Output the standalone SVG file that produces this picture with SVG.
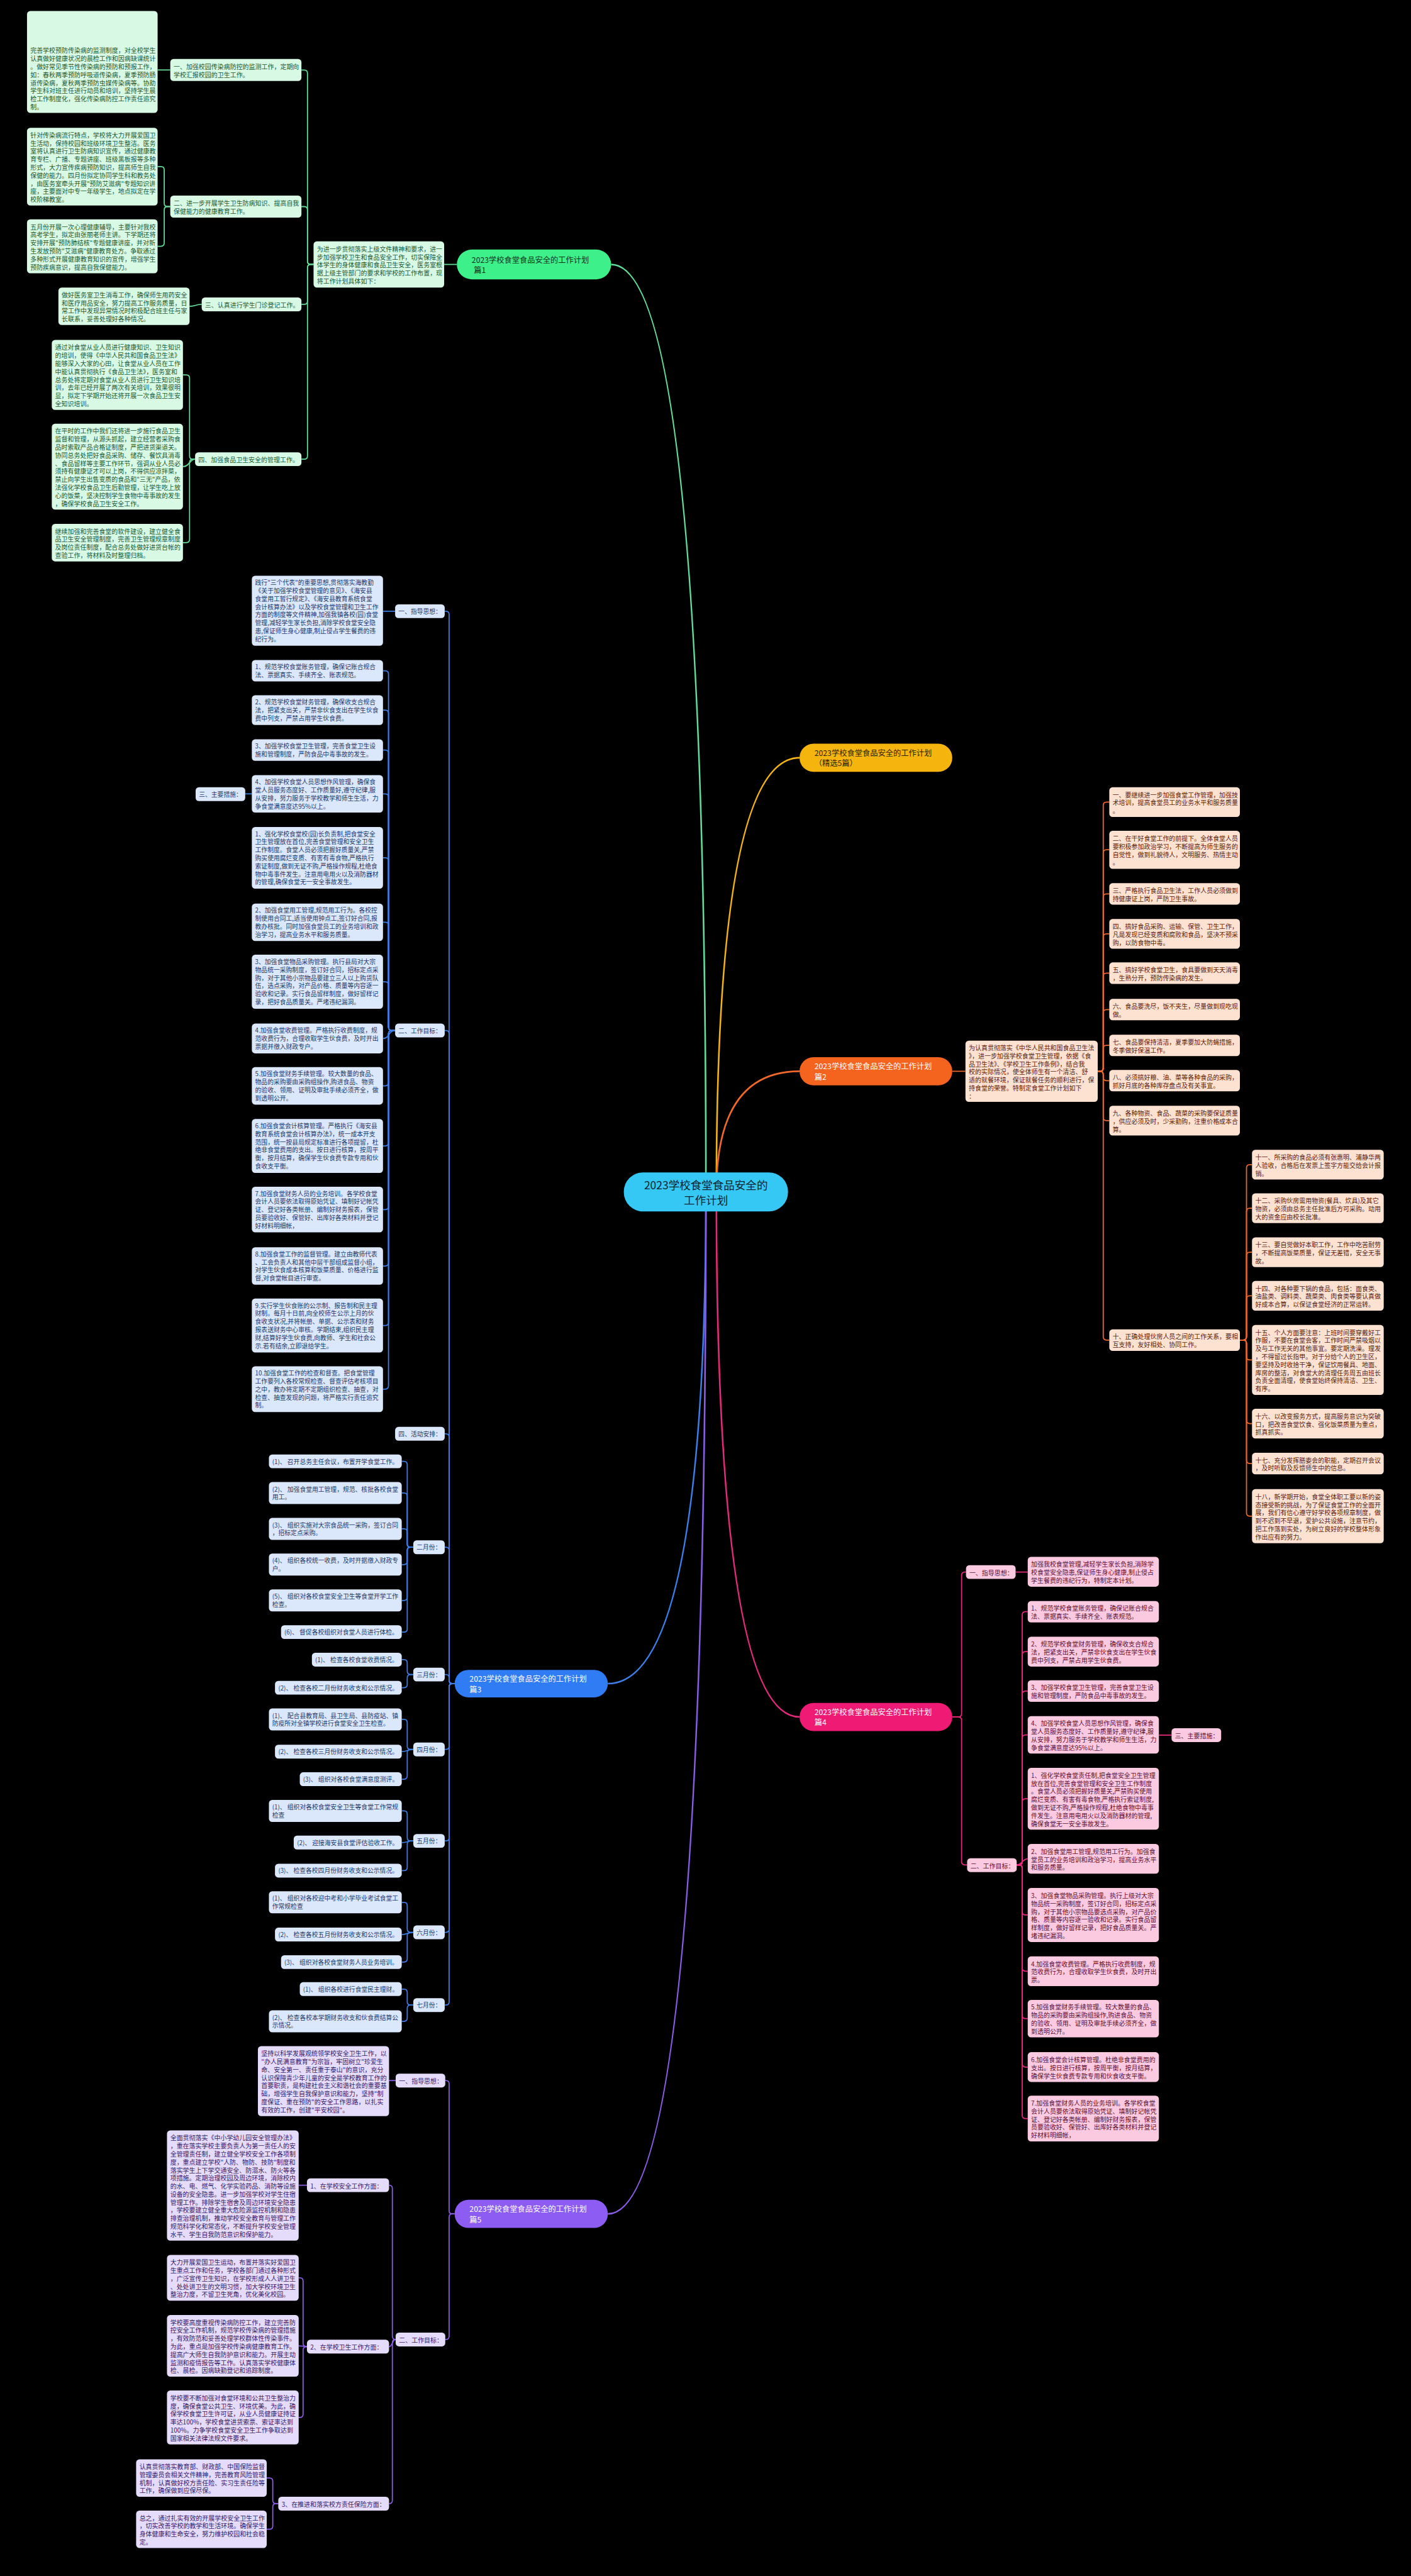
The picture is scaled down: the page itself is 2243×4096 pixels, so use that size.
<svg xmlns="http://www.w3.org/2000/svg" width="2243" height="4096" viewBox="0 0 2243 4096">
<style>
.t{font-family:"Noto Sans CJK SC","Noto Sans",sans-serif;font-size:11.4px;dominant-baseline:central}
.n{font-family:"Noto Sans CJK SC","Noto Sans",sans-serif;font-size:14px;dominant-baseline:central}
.c{font-family:"Noto Sans CJK SC","Noto Sans",sans-serif;font-size:20px;dominant-baseline:central;text-anchor:middle}
.g rect{fill:#d8f9e3}.g text{fill:#1c5a35}
.o rect{fill:#fde1d1}.o text{fill:#5a2410}
.u rect{fill:#dbe7fb}.u text{fill:#1d3a6a}
.p rect{fill:#fbc9e0}.p text{fill:#5e1035}
.v rect{fill:#e5dbfa}.v text{fill:#35206a}
.u .t{font-size:11.2px}
#conn path{fill:none;stroke-width:2}
.cg{stroke:#62de9a}.co{stroke:#f0692a}.cu{stroke:#3d7fe6}.cp{stroke:#e62a7c}.cv{stroke:#8a5ee6}.cy{stroke:#f2b315}
#conn .m{stroke-width:3}
</style>
<rect width="2243" height="4096" fill="#000"/>
<g transform="scale(0.876)">
<g id="conn">
<path class="cg m" d="M 1281 2163 Q 1281 480 1109 480"/>
<path class="cy m" d="M 1300 2163 Q 1300 1375.5 1451 1375.5"/>
<path class="co m" d="M 1300 2163 Q 1300 1944.5 1451 1944.5"/>
<path class="cu m" d="M 1281 2163 Q 1281 3056 1103 3056"/>
<path class="cp m" d="M 1300 2163 Q 1300 3116.5 1451 3116.5"/>
<path class="cv m" d="M 1281 2163 Q 1281 4018.5 1103 4018.5"/>
<path class="cg" d="M 829 480 H 806"/>
<path class="cg" d="M 569 480 H 564 Q 558 480 558 474 V 133 Q 558 127 552 127 H 547"/>
<path class="cg" d="M 569 480 H 564 Q 558 480 558 474 V 381 Q 558 375 552 375 H 547"/>
<path class="cg" d="M 569 480 H 564 Q 558 480 558 486 V 546.5 Q 558 552.5 552 552.5 H 547"/>
<path class="cg" d="M 569 480 H 564 Q 558 480 558 486 V 827.5 Q 558 833.5 552 833.5 H 547"/>
<path class="cg" d="M 309 127 H 286"/>
<path class="cg" d="M 309 375 H 304 Q 298 375 298 369 V 308.5 Q 298 302.5 292 302.5 H 286"/>
<path class="cg" d="M 309 375 H 304 Q 298 375 298 381 V 441 Q 298 447 292 447 H 286"/>
<path class="cg" d="M 366 552.5 C 355 552.5 355 556 344 556"/>
<path class="cg" d="M 354 833.5 H 350 Q 344 833.5 344 827.5 V 686.5 Q 344 680.5 338 680.5 H 332"/>
<path class="cg" d="M 354 833.5 C 344 833.5 344 847 332 847"/>
<path class="cg" d="M 354 833.5 H 350 Q 344 833.5 344 839.5 V 979 Q 344 985 338 985 H 332"/>
<path class="co" d="M 1728 1944.5 H 1752"/>
<path class="co" d="M 1992 1944.5 H 1996 Q 2002 1944.5 2002 1938.5 V 1462 Q 2002 1456 2008 1456 H 2013"/>
<path class="co" d="M 1992 1944.5 H 1996 Q 2002 1944.5 2002 1938.5 V 1548.5 Q 2002 1542.5 2008 1542.5 H 2013"/>
<path class="co" d="M 1992 1944.5 H 1996 Q 2002 1944.5 2002 1938.5 V 1628.5 Q 2002 1622.5 2008 1622.5 H 2013"/>
<path class="co" d="M 1992 1944.5 H 1996 Q 2002 1944.5 2002 1938.5 V 1701 Q 2002 1695 2008 1695 H 2013"/>
<path class="co" d="M 1992 1944.5 H 1996 Q 2002 1944.5 2002 1938.5 V 1772.5 Q 2002 1766.5 2008 1766.5 H 2013"/>
<path class="co" d="M 1992 1944.5 H 1996 Q 2002 1944.5 2002 1938.5 V 1838.5 Q 2002 1832.5 2008 1832.5 H 2013"/>
<path class="co" d="M 1992 1944.5 H 1996 Q 2002 1944.5 2002 1938.5 V 1903.5 Q 2002 1897.5 2008 1897.5 H 2013"/>
<path class="co" d="M 1992 1944.5 H 1996 Q 2002 1944.5 2002 1950.5 V 1955.5 Q 2002 1961.5 2008 1961.5 H 2013"/>
<path class="co" d="M 1992 1944.5 H 1996 Q 2002 1944.5 2002 1950.5 V 2028 Q 2002 2034 2008 2034 H 2013"/>
<path class="co" d="M 1992 1944.5 H 1996 Q 2002 1944.5 2002 1950.5 V 2426.5 Q 2002 2432.5 2008 2432.5 H 2013"/>
<path class="co" d="M 2250 2432.5 H 2256 Q 2262 2432.5 2262 2426.5 V 2120 Q 2262 2114 2268 2114 H 2272"/>
<path class="co" d="M 2250 2432.5 H 2256 Q 2262 2432.5 2262 2426.5 V 2199 Q 2262 2193 2268 2193 H 2272"/>
<path class="co" d="M 2250 2432.5 H 2256 Q 2262 2432.5 2262 2426.5 V 2279 Q 2262 2273 2268 2273 H 2272"/>
<path class="co" d="M 2250 2432.5 H 2256 Q 2262 2432.5 2262 2426.5 V 2358 Q 2262 2352 2268 2352 H 2272"/>
<path class="co" d="M 2250 2432.5 H 2256 Q 2262 2432.5 2262 2438.5 V 2462.5 Q 2262 2468.5 2268 2468.5 H 2272"/>
<path class="co" d="M 2250 2432.5 H 2256 Q 2262 2432.5 2262 2438.5 V 2578 Q 2262 2584 2268 2584 H 2272"/>
<path class="co" d="M 2250 2432.5 H 2256 Q 2262 2432.5 2262 2438.5 V 2650.5 Q 2262 2656.5 2268 2656.5 H 2272"/>
<path class="co" d="M 2250 2432.5 H 2256 Q 2262 2432.5 2262 2438.5 V 2746 Q 2262 2752 2268 2752 H 2272"/>
<path class="cu" d="M 825 3056 H 821 Q 815 3056 815 3050 V 1115.5 Q 815 1109.5 809 1109.5 H 807"/>
<path class="cu" d="M 825 3056 H 821 Q 815 3056 815 3050 V 1876.5 Q 815 1870.5 809 1870.5 H 807"/>
<path class="cu" d="M 825 3056 H 821 Q 815 3056 815 3050 V 2608.5 Q 815 2602.5 809 2602.5 H 807"/>
<path class="cu" d="M 825 3056 H 821 Q 815 3056 815 3050 V 2814.5 Q 815 2808.5 809 2808.5 H 807"/>
<path class="cu" d="M 825 3056 H 821 Q 815 3056 815 3050 V 3045.5 Q 815 3039.5 809 3039.5 H 807"/>
<path class="cu" d="M 825 3056 H 821 Q 815 3056 815 3062 V 3169.5 Q 815 3175.5 809 3175.5 H 807"/>
<path class="cu" d="M 825 3056 H 821 Q 815 3056 815 3062 V 3335.5 Q 815 3341.5 809 3341.5 H 807"/>
<path class="cu" d="M 825 3056 H 821 Q 815 3056 815 3062 V 3501.5 Q 815 3507.5 809 3507.5 H 807"/>
<path class="cu" d="M 825 3056 H 821 Q 815 3056 815 3062 V 3633.5 Q 815 3639.5 809 3639.5 H 807"/>
<path class="cu" d="M 717 1109.5 H 695"/>
<path class="cu" d="M 717 1870.5 H 711 Q 705 1870.5 705 1864.5 V 1223.5 Q 705 1217.5 699 1217.5 H 695"/>
<path class="cu" d="M 717 1870.5 H 711 Q 705 1870.5 705 1864.5 V 1295 Q 705 1289 699 1289 H 695"/>
<path class="cu" d="M 717 1870.5 H 711 Q 705 1870.5 705 1864.5 V 1367.5 Q 705 1361.5 699 1361.5 H 695"/>
<path class="cu" d="M 717 1870.5 H 711 Q 705 1870.5 705 1864.5 V 1447 Q 705 1441 699 1441 H 695"/>
<path class="cu" d="M 717 1870.5 H 711 Q 705 1870.5 705 1864.5 V 1563 Q 705 1557 699 1557 H 695"/>
<path class="cu" d="M 717 1870.5 H 711 Q 705 1870.5 705 1864.5 V 1680 Q 705 1674 699 1674 H 695"/>
<path class="cu" d="M 717 1870.5 H 711 Q 705 1870.5 705 1864.5 V 1788 Q 705 1782 699 1782 H 695"/>
<path class="cu" d="M 717 1870.5 C 705 1870.5 707 1885 695 1885"/>
<path class="cu" d="M 717 1870.5 H 711 Q 705 1870.5 705 1876.5 V 1965 Q 705 1971 699 1971 H 695"/>
<path class="cu" d="M 717 1870.5 H 711 Q 705 1870.5 705 1876.5 V 2074 Q 705 2080 699 2080 H 695"/>
<path class="cu" d="M 717 1870.5 H 711 Q 705 1870.5 705 1876.5 V 2189.5 Q 705 2195.5 699 2195.5 H 695"/>
<path class="cu" d="M 717 1870.5 H 711 Q 705 1870.5 705 1876.5 V 2292 Q 705 2298 699 2298 H 695"/>
<path class="cu" d="M 717 1870.5 H 711 Q 705 1870.5 705 1876.5 V 2400 Q 705 2406 699 2406 H 695"/>
<path class="cu" d="M 717 1870.5 H 711 Q 705 1870.5 705 1876.5 V 2515.5 Q 705 2521.5 699 2521.5 H 695"/>
<path class="cu" d="M 457 1441 H 445"/>
<path class="cu" d="M 750 2808.5 H 745 Q 739 2808.5 739 2802.5 V 2658.5 Q 739 2652.5 733 2652.5 H 729"/>
<path class="cu" d="M 750 2808.5 H 745 Q 739 2808.5 739 2802.5 V 2716 Q 739 2710 733 2710 H 729"/>
<path class="cu" d="M 750 2808.5 H 745 Q 739 2808.5 739 2802.5 V 2781 Q 739 2775 733 2775 H 729"/>
<path class="cu" d="M 750 2808.5 H 745 Q 739 2808.5 739 2814.5 V 2834 Q 739 2840 733 2840 H 729"/>
<path class="cu" d="M 750 2808.5 H 745 Q 739 2808.5 739 2814.5 V 2899 Q 739 2905 733 2905 H 729"/>
<path class="cu" d="M 750 2808.5 H 745 Q 739 2808.5 739 2814.5 V 2956.5 Q 739 2962.5 733 2962.5 H 729"/>
<path class="cu" d="M 750 3039.5 H 745 Q 739 3039.5 739 3033.5 V 3018.5 Q 739 3012.5 733 3012.5 H 729"/>
<path class="cu" d="M 750 3039.5 H 745 Q 739 3039.5 739 3045.5 V 3057.5 Q 739 3063.5 733 3063.5 H 729"/>
<path class="cu" d="M 750 3175.5 H 745 Q 739 3175.5 739 3169.5 V 3127 Q 739 3121 733 3121 H 729"/>
<path class="cu" d="M 750 3175.5 C 739 3175.5 739 3179.5 729 3179.5"/>
<path class="cu" d="M 750 3175.5 H 745 Q 739 3175.5 739 3181.5 V 3223.5 Q 739 3229.5 733 3229.5 H 729"/>
<path class="cu" d="M 750 3341.5 H 745 Q 739 3341.5 739 3335.5 V 3293 Q 739 3287 733 3287 H 729"/>
<path class="cu" d="M 750 3341.5 C 739 3341.5 739 3344.5 729 3344.5"/>
<path class="cu" d="M 750 3341.5 H 745 Q 739 3341.5 739 3347.5 V 3389.5 Q 739 3395.5 733 3395.5 H 729"/>
<path class="cu" d="M 750 3507.5 H 745 Q 739 3507.5 739 3501.5 V 3459 Q 739 3453 733 3453 H 729"/>
<path class="cu" d="M 750 3507.5 C 739 3507.5 739 3511.5 729 3511.5"/>
<path class="cu" d="M 750 3507.5 H 745 Q 739 3507.5 739 3513.5 V 3555.5 Q 739 3561.5 733 3561.5 H 729"/>
<path class="cu" d="M 750 3639.5 H 745 Q 739 3639.5 739 3633.5 V 3616.5 Q 739 3610.5 733 3610.5 H 729"/>
<path class="cu" d="M 750 3639.5 H 745 Q 739 3639.5 739 3645.5 V 3663 Q 739 3669 733 3669 H 729"/>
<path class="cp" d="M 1728 3116.5 H 1739 Q 1745 3116.5 1745 3110.5 V 2859.5 Q 1745 2853.5 1751 2853.5 H 1753"/>
<path class="cp" d="M 1728 3116.5 H 1739 Q 1745 3116.5 1745 3122.5 V 3379 Q 1745 3385 1751 3385 H 1755"/>
<path class="cp" d="M 1843 2853.5 H 1865"/>
<path class="cp" d="M 1845 3385 H 1849 Q 1855 3385 1855 3379 V 2931.5 Q 1855 2925.5 1861 2925.5 H 1865"/>
<path class="cp" d="M 1845 3385 H 1849 Q 1855 3385 1855 3379 V 3004 Q 1855 2998 1861 2998 H 1865"/>
<path class="cp" d="M 1845 3385 H 1849 Q 1855 3385 1855 3379 V 3075.5 Q 1855 3069.5 1861 3069.5 H 1865"/>
<path class="cp" d="M 1845 3385 H 1849 Q 1855 3385 1855 3379 V 3155 Q 1855 3149 1861 3149 H 1865"/>
<path class="cp" d="M 1845 3385 H 1849 Q 1855 3385 1855 3379 V 3271 Q 1855 3265 1861 3265 H 1865"/>
<path class="cp" d="M 1845 3385 C 1855 3385 1855 3374 1865 3374"/>
<path class="cp" d="M 1845 3385 H 1849 Q 1855 3385 1855 3391 V 3470 Q 1855 3476 1861 3476 H 1865"/>
<path class="cp" d="M 1845 3385 H 1849 Q 1855 3385 1855 3391 V 3572 Q 1855 3578 1861 3578 H 1865"/>
<path class="cp" d="M 1845 3385 H 1849 Q 1855 3385 1855 3391 V 3658 Q 1855 3664 1861 3664 H 1865"/>
<path class="cp" d="M 1845 3385 H 1849 Q 1855 3385 1855 3391 V 3746 Q 1855 3752 1861 3752 H 1865"/>
<path class="cp" d="M 1845 3385 H 1849 Q 1855 3385 1855 3391 V 3839.5 Q 1855 3845.5 1861 3845.5 H 1865"/>
<path class="cp" d="M 2103 3149.5 H 2126"/>
<path class="cv" d="M 825 4018.5 H 821 Q 815 4018.5 815 4012.5 V 3782.5 Q 815 3776.5 809 3776.5 H 808"/>
<path class="cv" d="M 825 4018.5 H 821 Q 815 4018.5 815 4024.5 V 4240.5 Q 815 4246.5 809 4246.5 H 808"/>
<path class="cv" d="M 718 3776.5 H 706"/>
<path class="cv" d="M 718 4246.5 Q 712 4246.5 712 4240.5 V 3972.5 Q 712 3966.5 706 3966.5"/>
<path class="cv" d="M 718 4246.5 C 712 4246.5 712 4259.5 706 4259.5"/>
<path class="cv" d="M 718 4246.5 Q 712 4246.5 712 4252.5 V 4538.5 Q 712 4544.5 706 4544.5"/>
<path class="cv" d="M 557 3966.5 H 542"/>
<path class="cv" d="M 557 4259.5 Q 550 4259.5 550 4253.5 V 4140.5 Q 550 4134.5 544 4134.5 H 542"/>
<path class="cv" d="M 557 4259.5 C 550 4259.5 550 4258 542 4258"/>
<path class="cv" d="M 557 4259.5 Q 550 4259.5 550 4265.5 V 4382 Q 550 4388 544 4388 H 542"/>
<path class="cv" d="M 505 4544.5 H 501 Q 495 4544.5 495 4538.5 V 4504 Q 495 4498 489 4498 H 484"/>
<path class="cv" d="M 505 4544.5 H 501 Q 495 4544.5 495 4550.5 V 4585 Q 495 4591 489 4591 H 484"/>
</g>

<g id="center"><rect x="1132" y="2128" width="298" height="71" rx="35" fill="#36c8f4"/><text class="c" fill="#10222e"><tspan x="1281" y="2150">2023学校食堂食品安全的</tspan><tspan x="1281" y="2177">工作计划</tspan></text></g>

<g id="b1"><rect x="829" y="453" width="280" height="54" rx="27" fill="#3ef089"/><text class="n" fill="#15301f"><tspan x="856" y="471">2023学校食堂食品安全的工作计划</tspan><tspan x="860" y="490">篇1</tspan></text></g>
<g id="b2"><rect x="1451" y="1350" width="277" height="51" rx="25" fill="#f6b40f"/><text class="n" fill="#2a1e00"><tspan x="1478" y="1366">2023学校食堂食品安全的工作计划</tspan><tspan x="1478" y="1385">（精选5篇）</tspan></text></g>
<g id="b3"><rect x="1451" y="1919" width="277" height="51" rx="25" fill="#f4641f"/><text class="n" fill="#fff"><tspan x="1478" y="1935">2023学校食堂食品安全的工作计划</tspan><tspan x="1478" y="1954">篇2</tspan></text></g>
<g id="b4"><rect x="825" y="3031" width="278" height="50" rx="25" fill="#2f7cf5"/><text class="n" fill="#fff"><tspan x="852" y="3047">2023学校食堂食品安全的工作计划</tspan><tspan x="852" y="3066">篇3</tspan></text></g>
<g id="b5"><rect x="1451" y="3091" width="277" height="51" rx="25" fill="#ee1a73"/><text class="n" fill="#fff"><tspan x="1478" y="3107">2023学校食堂食品安全的工作计划</tspan><tspan x="1478" y="3126">篇4</tspan></text></g>
<g id="b6"><rect x="825" y="3993" width="278" height="51" rx="25" fill="#8d5cf2"/><text class="n" fill="#fff"><tspan x="852" y="4009">2023学校食堂食品安全的工作计划</tspan><tspan x="852" y="4028">篇5</tspan></text></g>

<g class="g">
<g id="b1-intro"><rect x="569" y="438" width="237" height="84" rx="6"/><text class="t"><tspan x="575" y="450.8">为进一步贯彻落实上级文件精神和要求，进一</tspan><tspan x="575" y="465.4">步加强学校卫生和食品安全工作，切实保障全</tspan><tspan x="575" y="480">体学生的身体健康和食品卫生安全，医务室根</tspan><tspan x="575" y="494.6">据上级主管部门的要求和学校的工作布置，现</tspan><tspan x="575" y="509.2">将工作计划具体如下：</tspan></text></g>
<g id="b1-l1"><rect x="309" y="107" width="238" height="40" rx="6"/><text class="t"><tspan x="315" y="119.7">一、加强校园传染病防控的监测工作，定期向</tspan><tspan x="315" y="134.3">学校汇报校园的卫生工作。</tspan></text></g>
<g id="b1-l2"><rect x="309" y="355" width="238" height="40" rx="6"/><text class="t"><tspan x="315" y="367.7">二、进一步开展学生卫生防病知识、提高自我</tspan><tspan x="315" y="382.3">保健能力的健康教育工作。</tspan></text></g>
<g id="b1-l3"><rect x="366" y="540" width="181" height="25" rx="6"/><text class="t"><tspan x="372" y="552.5">三、认真进行学生门诊登记工作。</tspan></text></g>
<g id="b1-l4"><rect x="354" y="821" width="193" height="25" rx="6"/><text class="t"><tspan x="360" y="833.5">四、加强食品卫生安全的管理工作。</tspan></text></g>
<g id="b1-1a"><rect x="49" y="20" width="237" height="185" rx="6"/><text class="t"><tspan x="55" y="90.6">完善学校预防传染病的监测制度，对全校学生</tspan><tspan x="55" y="105.2">认真做好健康状况的晨检工作和因病缺课统计</tspan><tspan x="55" y="119.8">。做好常见季节性传染病的预防和预报工作，</tspan><tspan x="55" y="134.4">如：春秋两季预防呼吸道传染病，夏季预防肠</tspan><tspan x="55" y="149">道传染病，夏秋两季预防虫媒传染病等。协助</tspan><tspan x="55" y="163.6">学生科对班主任进行动员和培训，坚持学生晨</tspan><tspan x="55" y="178.2">检工作制度化，强化传染病防控工作责任追究</tspan><tspan x="55" y="192.8">制。</tspan></text></g>
<g id="b1-2a"><rect x="49" y="232" width="237" height="141" rx="6"/><text class="t"><tspan x="55" y="244.1">针对传染病流行特点，学校将大力开展爱国卫</tspan><tspan x="55" y="258.7">生活动，保持校园和班级环境卫生整洁。医务</tspan><tspan x="55" y="273.3">室将认真进行卫生防病知识宣传，通过健康教</tspan><tspan x="55" y="287.9">育专栏、广播、专题讲座、班级黑板报等多种</tspan><tspan x="55" y="302.5">形式，大力宣传疾病预防知识，提高师生自我</tspan><tspan x="55" y="317.1">保健的能力。四月份拟定协同学生科和教务处</tspan><tspan x="55" y="331.7">，由医务室牵头开展"预防艾滋病"专题知识讲</tspan><tspan x="55" y="346.3">座，主要面对中专一年级学生，地点拟定在学</tspan><tspan x="55" y="360.9">校阶梯教室。</tspan></text></g>
<g id="b1-2b"><rect x="49" y="398" width="237" height="98" rx="6"/><text class="t"><tspan x="55" y="410.5">五月份开展一次心理健康辅导，主要针对我校</tspan><tspan x="55" y="425.1">高考学生，拟定由张丽老师主讲。下学期还将</tspan><tspan x="55" y="439.7">安排开展"预防肺结核"专题健康讲座，并对新</tspan><tspan x="55" y="454.3">生发放预防"艾滋病"健康教育处方。争取通过</tspan><tspan x="55" y="468.9">多种形式开展健康教育知识的宣传，增强学生</tspan><tspan x="55" y="483.5">预防疾病意识，提高自我保健能力。</tspan></text></g>
<g id="b1-3a"><rect x="106" y="522" width="238" height="68" rx="6"/><text class="t"><tspan x="112" y="534.1">做好医务室卫生消毒工作，确保师生用药安全</tspan><tspan x="112" y="548.7">和医疗用品安全，努力提高工作服务质量，日</tspan><tspan x="112" y="563.3">常工作中发现异常情况时积极配合班主任与家</tspan><tspan x="112" y="577.9">长联系，妥善处理好各种情况。</tspan></text></g>
<g id="b1-4a"><rect x="94" y="617" width="238" height="127" rx="6"/><text class="t"><tspan x="100" y="629.4">通过对食堂从业人员进行健康知识、卫生知识</tspan><tspan x="100" y="644">的培训，使得《中华人民共和国食品卫生法》</tspan><tspan x="100" y="658.6">能够深入大家的心田，让食堂从业人员在工作</tspan><tspan x="100" y="673.2">中能认真贯彻执行《食品卫生法》，医务室和</tspan><tspan x="100" y="687.8">总务处将定期对食堂从业人员进行卫生知识培</tspan><tspan x="100" y="702.4">训，去年已经开展了两次有关培训，效果很明</tspan><tspan x="100" y="717">显，拟定下学期开始还将开展一次食品卫生安</tspan><tspan x="100" y="731.6">全知识培训。</tspan></text></g>
<g id="b1-4b"><rect x="94" y="769" width="238" height="156" rx="6"/><text class="t"><tspan x="100" y="781.3">在平时的工作中我们还将进一步施行食品卫生</tspan><tspan x="100" y="795.9">监督和管理，从源头抓起，建立经营者采购食</tspan><tspan x="100" y="810.5">品时索取产品合格证制度，严把进货渠道关。</tspan><tspan x="100" y="825.1">协同总务处把好食品采购、储存、餐饮具消毒</tspan><tspan x="100" y="839.7">、食品留样等主要工作环节，强调从业人员必</tspan><tspan x="100" y="854.3">须持有健康证才可以上岗，不得供应凉拌菜，</tspan><tspan x="100" y="868.9">禁止向学生出售变质的食品和"三无"产品，依</tspan><tspan x="100" y="883.5">法强化学校食品卫生后勤管理，让学生吃上放</tspan><tspan x="100" y="898.1">心的饭菜，坚决控制学生食物中毒事故的发生</tspan><tspan x="100" y="912.7">，确保学校食品卫生安全工作。</tspan></text></g>
<g id="b1-4c"><rect x="94" y="951" width="238" height="68" rx="6"/><text class="t"><tspan x="100" y="963.1">继续加强和完善食堂的软件建设，建立健全食</tspan><tspan x="100" y="977.7">品卫生安全管理制度，完善卫生管理规章制度</tspan><tspan x="100" y="992.3">及岗位责任制度，配合总务处做好进货台帐的</tspan><tspan x="100" y="1006.9">查验工作，将材料及时整理归档。</tspan></text></g>
</g>

<g class="o">
<g id="b3-intro"><rect x="1752" y="1889" width="240" height="111" rx="6"/><text class="t"><tspan x="1758" y="1900.7">为认真贯彻落实《中华人民共和国食品卫生法</tspan><tspan x="1758" y="1915.3">》，进一步加强学校食堂卫生管理，依据《食</tspan><tspan x="1758" y="1929.9">品卫生法》、《学校卫生工作条例》，结合我</tspan><tspan x="1758" y="1944.5">校的实际情况，使全体师生有一个清洁、舒</tspan><tspan x="1758" y="1959.1">适的就餐环境，保证就餐任务的顺利进行，保</tspan><tspan x="1758" y="1973.7">持食堂的荣誉。特制定食堂工作计划如下</tspan><tspan x="1758" y="1988.3">：</tspan></text></g>
<g id="b3-1"><rect x="2013" y="1429" width="237" height="54" rx="6"/><text class="t"><tspan x="2019" y="1441.4">一、要继续进一步加强食堂工作管理，加强技</tspan><tspan x="2019" y="1456">术培训，提高食堂员工的业务水平和服务质量</tspan><tspan x="2019" y="1470.6">。</tspan></text></g>
<g id="b3-2"><rect x="2013" y="1508" width="237" height="69" rx="6"/><text class="t"><tspan x="2019" y="1520.6">二、在干好食堂工作的前提下。全体食堂人员</tspan><tspan x="2019" y="1535.2">要积极参加政治学习，不断提高为师生服务的</tspan><tspan x="2019" y="1549.8">自觉性，做到礼貌待人，文明服务、热情主动</tspan><tspan x="2019" y="1564.4">。</tspan></text></g>
<g id="b3-3"><rect x="2013" y="1603" width="237" height="39" rx="6"/><text class="t"><tspan x="2019" y="1615.2">三、严格执行食品卫生法，工作人员必须做到</tspan><tspan x="2019" y="1629.8">持健康证上岗，严防卫生事故。</tspan></text></g>
<g id="b3-4"><rect x="2013" y="1668" width="237" height="54" rx="6"/><text class="t"><tspan x="2019" y="1680.4">四、搞好食品采购、运输、保管、卫生工作，</tspan><tspan x="2019" y="1695">凡是发现已经变质和腐败和食品，坚决不预采</tspan><tspan x="2019" y="1709.6">购，以防食物中毒。</tspan></text></g>
<g id="b3-5"><rect x="2013" y="1747" width="237" height="39" rx="6"/><text class="t"><tspan x="2019" y="1759.2">五、搞好学校食堂卫生，食具要做到天天消毒</tspan><tspan x="2019" y="1773.8">，生熟分开，预防传染病的发生。</tspan></text></g>
<g id="b3-6"><rect x="2013" y="1813" width="237" height="39" rx="6"/><text class="t"><tspan x="2019" y="1825.2">六、食品要洗尽，饭不夹生，尽量做到现吃现</tspan><tspan x="2019" y="1839.8">做。</tspan></text></g>
<g id="b3-7"><rect x="2013" y="1878" width="237" height="39" rx="6"/><text class="t"><tspan x="2019" y="1890.2">七、食品要保持清洁，夏季要加大防蝇措施，</tspan><tspan x="2019" y="1904.8">冬季做好保温工作。</tspan></text></g>
<g id="b3-8"><rect x="2013" y="1942" width="237" height="39" rx="6"/><text class="t"><tspan x="2019" y="1954.2">八、必须搞好粮、油、菜等各种食品的采购，</tspan><tspan x="2019" y="1968.8">抓好月底的各种库存盘点及有关事宜。</tspan></text></g>
<g id="b3-9"><rect x="2013" y="2007" width="237" height="54" rx="6"/><text class="t"><tspan x="2019" y="2019.4">九、各种物资、食品、蔬菜的采购要保证质量</tspan><tspan x="2019" y="2034">，供应必须及时，少采勤购，注重价格成本合</tspan><tspan x="2019" y="2048.6">算。</tspan></text></g>
<g id="b3-10"><rect x="2013" y="2413" width="237" height="39" rx="6"/><text class="t"><tspan x="2019" y="2425.2">十、正确处理伙房人员之间的工作关系，要相</tspan><tspan x="2019" y="2439.8">互支持，友好相处、协同工作。</tspan></text></g>
<g id="b3-11"><rect x="2272" y="2087" width="239" height="54" rx="6"/><text class="t"><tspan x="2278" y="2099.4">十一、所采购的食品必须有张惠明、浦静华两</tspan><tspan x="2278" y="2114">人验收，合格后在发票上签字方能交给会计报</tspan><tspan x="2278" y="2128.6">销。</tspan></text></g>
<g id="b3-12"><rect x="2272" y="2166" width="239" height="54" rx="6"/><text class="t"><tspan x="2278" y="2178.4">十二、采购伙房需用物资(餐具、炊具)及其它</tspan><tspan x="2278" y="2193">物资，必须由总务主任批准后方可采购。动用</tspan><tspan x="2278" y="2207.6">大的资金应由校长批准。</tspan></text></g>
<g id="b3-13"><rect x="2272" y="2246" width="239" height="54" rx="6"/><text class="t"><tspan x="2278" y="2258.4">十三、要自觉做好本职工作，工作中吃苦耐劳</tspan><tspan x="2278" y="2273">，不断提高饭菜质量，保证无差错，安全无事</tspan><tspan x="2278" y="2287.6">故。</tspan></text></g>
<g id="b3-14"><rect x="2272" y="2325" width="239" height="54" rx="6"/><text class="t"><tspan x="2278" y="2337.4">十四、对各种要下锅的食品，包括：面食类、</tspan><tspan x="2278" y="2352">油盐类、调料类、蔬菜类、肉食类等要认真做</tspan><tspan x="2278" y="2366.6">好成本合算，以保证食堂经济的正常运转。</tspan></text></g>
<g id="b3-15"><rect x="2272" y="2405" width="239" height="127" rx="6"/><text class="t"><tspan x="2278" y="2417.4">十五、个人方面要注意：上班时间要穿戴好工</tspan><tspan x="2278" y="2432">作服，不要在食堂会客，工作时间严禁吸烟以</tspan><tspan x="2278" y="2446.6">及与工作无关的其他事宜。要定期洗澡。理发</tspan><tspan x="2278" y="2461.2">，不得留过长指甲。对于分给个人的卫生区，</tspan><tspan x="2278" y="2475.8">要坚持及时收拾干净，保证饮用餐具、地面、</tspan><tspan x="2278" y="2490.4">库房的整洁，对食堂大的清理任务周五由班长</tspan><tspan x="2278" y="2505">负责全面清理，使食堂始终保持清洁、卫生、</tspan><tspan x="2278" y="2519.6">有序。</tspan></text></g>
<g id="b3-16"><rect x="2272" y="2557" width="239" height="54" rx="6"/><text class="t"><tspan x="2278" y="2569.4">十六、以改变报务方式，提高服务意识为突破</tspan><tspan x="2278" y="2584">口，把改善食堂饮食、强化饭菜质量为重点，</tspan><tspan x="2278" y="2598.6">抓真抓实。</tspan></text></g>
<g id="b3-17"><rect x="2272" y="2637" width="239" height="39" rx="6"/><text class="t"><tspan x="2278" y="2649.2">十七、充分发挥膳委会的职能，定期召开会议</tspan><tspan x="2278" y="2663.8">，及时听取及反馈师生中的信息。</tspan></text></g>
<g id="b3-18"><rect x="2272" y="2703" width="239" height="98" rx="6"/><text class="t"><tspan x="2278" y="2715.5">十八，新学期开始，食堂全体职工要以新的姿</tspan><tspan x="2278" y="2730.1">态接受新的挑战，为了保证食堂工作的全面开</tspan><tspan x="2278" y="2744.7">展，我们有信心遵守好学校各项规章制度，做</tspan><tspan x="2278" y="2759.3">到不迟到不早退，爱护公共设施，注意节约，</tspan><tspan x="2278" y="2773.9">把工作落到实处，为树立良好的学校整体形象</tspan><tspan x="2278" y="2788.5">作出应有的努力。</tspan></text></g>
</g>

<g class="u">
<g id="b4-l1"><rect x="717" y="1097" width="90" height="25" rx="6"/><text class="t"><tspan x="723" y="1109.5">一、指导思想：</tspan></text></g>
<g id="b4-l2"><rect x="717" y="1858" width="90" height="25" rx="6"/><text class="t"><tspan x="723" y="1870.5">二、工作目标：</tspan></text></g>
<g id="b4-l4"><rect x="717" y="2590" width="90" height="25" rx="6"/><text class="t"><tspan x="723" y="2602.5">四、活动安排：</tspan></text></g>
<g id="b4-m2"><rect x="750" y="2796" width="57" height="25" rx="6"/><text class="t"><tspan x="756" y="2808.5">二月份：</tspan></text></g>
<g id="b4-m3"><rect x="750" y="3027" width="57" height="25" rx="6"/><text class="t"><tspan x="756" y="3039.5">三月份：</tspan></text></g>
<g id="b4-m4"><rect x="750" y="3163" width="57" height="25" rx="6"/><text class="t"><tspan x="756" y="3175.5">四月份：</tspan></text></g>
<g id="b4-m5"><rect x="750" y="3329" width="57" height="25" rx="6"/><text class="t"><tspan x="756" y="3341.5">五月份：</tspan></text></g>
<g id="b4-m6"><rect x="750" y="3495" width="57" height="25" rx="6"/><text class="t"><tspan x="756" y="3507.5">六月份：</tspan></text></g>
<g id="b4-m7"><rect x="750" y="3627" width="57" height="25" rx="6"/><text class="t"><tspan x="756" y="3639.5">七月份：</tspan></text></g>
<g id="b4-l3"><rect x="355" y="1429" width="90" height="25" rx="6"/><text class="t"><tspan x="361" y="1441.5">三、主要措施：</tspan></text></g>
<g id="b4-guide"><rect x="457" y="1045" width="238" height="127" rx="6"/><text class="t"><tspan x="463" y="1057.4">践行"三个代表"的重要思想,贯彻落实海教勤</tspan><tspan x="463" y="1072">《关于加强学校食堂管理的意见》、《海安县</tspan><tspan x="463" y="1086.6">食堂用工暂行规定》、《海安县教育系统食堂</tspan><tspan x="463" y="1101.2">会计核算办法》以及学校食堂管理和卫生工作</tspan><tspan x="463" y="1115.8">方面的制度等文件精神,加强我镇各校(园)食堂</tspan><tspan x="463" y="1130.4">管理,减轻学生家长负担,消除学校食堂安全隐</tspan><tspan x="463" y="1145">患,保证师生身心健康,制止侵占学生餐费的违</tspan><tspan x="463" y="1159.6">纪行为。</tspan></text></g>
<g id="b4-a1"><rect x="457" y="1198" width="238" height="39" rx="6"/><text class="t"><tspan x="463" y="1210.2">1、规范学校食堂账务管理，确保记账合规合</tspan><tspan x="463" y="1224.8">法、票据真实、手续齐全、账表规范。</tspan></text></g>
<g id="b4-a2"><rect x="457" y="1262" width="238" height="54" rx="6"/><text class="t"><tspan x="463" y="1274.4">2、规范学校食堂财务管理，确保收支合规合</tspan><tspan x="463" y="1289">法，把紧支出关，严禁非伙食支出在学生伙食</tspan><tspan x="463" y="1303.6">费中列支，严禁占用学生伙食费。</tspan></text></g>
<g id="b4-a3"><rect x="457" y="1342" width="238" height="39" rx="6"/><text class="t"><tspan x="463" y="1354.2">3、加强学校食堂卫生管理，完善食堂卫生设</tspan><tspan x="463" y="1368.8">施和管理制度，严防食品中毒事故的发生。</tspan></text></g>
<g id="b4-a4"><rect x="457" y="1407" width="238" height="68" rx="6"/><text class="t"><tspan x="463" y="1419.1">4、加强学校食堂人员思想作风管理，确保食</tspan><tspan x="463" y="1433.7">堂人员服务态度好、工作质量好,遵守纪律,服</tspan><tspan x="463" y="1448.3">从安排，努力服务于学校教学和师生生活，力</tspan><tspan x="463" y="1462.9">争食堂满意度达95%以上。</tspan></text></g>
<g id="b4-b1"><rect x="457" y="1501" width="238" height="112" rx="6"/><text class="t"><tspan x="463" y="1513.2">1、强化学校食堂校(园)长负责制,把食堂安全</tspan><tspan x="463" y="1527.8">卫生管理放在首位,完善食堂管理和安全卫生</tspan><tspan x="463" y="1542.4">工作制度。食堂人员必须把握好质量关,严禁</tspan><tspan x="463" y="1557">购买使用腐烂变质、有害有毒食物,严格执行</tspan><tspan x="463" y="1571.6">索证制度,做到无证不购,严格操作规程,杜绝食</tspan><tspan x="463" y="1586.2">物中毒事件发生。注意用电用火以及消防器材</tspan><tspan x="463" y="1600.8">的管理,确保食堂无一安全事故发生。</tspan></text></g>
<g id="b4-b2"><rect x="457" y="1640" width="238" height="68" rx="6"/><text class="t"><tspan x="463" y="1652.1">2、加强食堂用工管理,规范用工行为。各校控</tspan><tspan x="463" y="1666.7">制使用合同工,适当使用钟点工,签订好合同,报</tspan><tspan x="463" y="1681.3">教办核批。同时加强食堂员工的业务培训和政</tspan><tspan x="463" y="1695.9">治学习，提高业务水平和服务质量。</tspan></text></g>
<g id="b4-b3"><rect x="457" y="1733" width="238" height="98" rx="6"/><text class="t"><tspan x="463" y="1745.5">3、加强食堂物品采购管理。执行县局对大宗</tspan><tspan x="463" y="1760.1">物品统一采购制度，签订好合同，招标定点采</tspan><tspan x="463" y="1774.7">购，对于其他小宗物品要建立三人以上购货队</tspan><tspan x="463" y="1789.3">伍，选点采购，对产品价格、质量等内容逐一</tspan><tspan x="463" y="1803.9">验收和记录。实行食品留样制度，做好留样记</tspan><tspan x="463" y="1818.5">录，把好食品质量关。严堵违纪漏洞。</tspan></text></g>
<g id="b4-b4"><rect x="457" y="1858" width="238" height="54" rx="6"/><text class="t"><tspan x="463" y="1870.4">4.加强食堂收费管理。严格执行收费制度，规</tspan><tspan x="463" y="1885">范收费行为，合理收取学生伙食费，及时开出</tspan><tspan x="463" y="1899.6">票据并缴入财政专户。</tspan></text></g>
<g id="b4-b5"><rect x="457" y="1937" width="238" height="68" rx="6"/><text class="t"><tspan x="463" y="1949.1">5.加强食堂财务手续管理。较大数量的食品、</tspan><tspan x="463" y="1963.7">物品的采购要由采购组操作,购进食品、物资</tspan><tspan x="463" y="1978.3">的验收、领用、证明及审批手续必须齐全，做</tspan><tspan x="463" y="1992.9">到透明公开。</tspan></text></g>
<g id="b4-b6"><rect x="457" y="2031" width="238" height="98" rx="6"/><text class="t"><tspan x="463" y="2043.5">6.加强食堂会计核算管理。严格执行《海安县</tspan><tspan x="463" y="2058.1">教育系统食堂会计核算办法》，统一成本开支</tspan><tspan x="463" y="2072.7">范围，统一按县局规定标准进行各项提留，杜</tspan><tspan x="463" y="2087.3">绝非食堂费用的支出。按日进行核算，按周平</tspan><tspan x="463" y="2101.9">衡，按月结算，确保学生伙食费专款专用和伙</tspan><tspan x="463" y="2116.5">食收支平衡。</tspan></text></g>
<g id="b4-b7"><rect x="457" y="2154" width="238" height="83" rx="6"/><text class="t"><tspan x="463" y="2166.3">7.加强食堂财务人员的业务培训。各学校食堂</tspan><tspan x="463" y="2180.9">会计人员要依法取得原始凭证、填制好记帐凭</tspan><tspan x="463" y="2195.5">证、登记好各类帐册、编制好财务报表，保管</tspan><tspan x="463" y="2210.1">员要验收好、保管好、出库好各类材料并登记</tspan><tspan x="463" y="2224.7">好材料明细帐，</tspan></text></g>
<g id="b4-b8"><rect x="457" y="2264" width="238" height="68" rx="6"/><text class="t"><tspan x="463" y="2276.1">8.加强食堂工作的监督管理。建立由教师代表</tspan><tspan x="463" y="2290.7">、工会负责人和其他中层干部组成监督小组，</tspan><tspan x="463" y="2305.3">对学生伙食成本核算和饭菜质量、价格进行监</tspan><tspan x="463" y="2319.9">督,对食堂帐目进行审查。</tspan></text></g>
<g id="b4-b9"><rect x="457" y="2357" width="238" height="98" rx="6"/><text class="t"><tspan x="463" y="2369.5">9.实行学生伙食账的公示制、报告制和民主理</tspan><tspan x="463" y="2384.1">财制。每月十日前,向全校师生公示上月的伙</tspan><tspan x="463" y="2398.7">食收支状况,并将帐册、单据、公示表和财务</tspan><tspan x="463" y="2413.3">报表送财务中心审核。学期结束,组织民主理</tspan><tspan x="463" y="2427.9">财,结算好学生伙食费,向教师、学生和社会公</tspan><tspan x="463" y="2442.5">示.若有结余,立即退给学生。</tspan></text></g>
<g id="b4-b10"><rect x="457" y="2480" width="238" height="83" rx="6"/><text class="t"><tspan x="463" y="2492.3">10.加强食堂工作的检查和督查。把食堂管理</tspan><tspan x="463" y="2506.9">工作要列入各校常规检查、督查评估考核项目</tspan><tspan x="463" y="2521.5">之中，教办将定期不定期组织检查、抽查，对</tspan><tspan x="463" y="2536.1">检查、抽查发现的问题，将严格实行责任追究</tspan><tspan x="463" y="2550.7">制。</tspan></text></g>
<g id="b4-m2-1"><rect x="488" y="2640" width="241" height="25" rx="6"/><text class="t"><tspan x="494" y="2652.5">(1)、 召开总务主任会议，布置开学食堂工作。</tspan></text></g>
<g id="b4-m2-2"><rect x="488" y="2690" width="241" height="40" rx="6"/><text class="t"><tspan x="494" y="2702.7">(2)、 加强食堂用工管理，规范、核批各校食堂</tspan><tspan x="494" y="2717.3">用工。</tspan></text></g>
<g id="b4-m2-3"><rect x="488" y="2755" width="241" height="40" rx="6"/><text class="t"><tspan x="494" y="2767.7">(3)、 组织实施对大宗食品统一采购，签订合同</tspan><tspan x="494" y="2782.3">，招标定点采购。</tspan></text></g>
<g id="b4-m2-4"><rect x="488" y="2820" width="241" height="40" rx="6"/><text class="t"><tspan x="494" y="2832.7">(4)、 组织各校统一收费，及时开据缴入财政专</tspan><tspan x="494" y="2847.3">户。</tspan></text></g>
<g id="b4-m2-5"><rect x="488" y="2885" width="241" height="40" rx="6"/><text class="t"><tspan x="494" y="2897.7">(5)、 组织对各校食堂安全卫生等食堂开学工作</tspan><tspan x="494" y="2912.3">检查。</tspan></text></g>
<g id="b4-m2-6"><rect x="510" y="2950" width="219" height="25" rx="6"/><text class="t"><tspan x="516" y="2962.5">(6)、 督促各校组织对食堂人员进行体检。</tspan></text></g>
<g id="b4-m3-1"><rect x="566" y="3000" width="163" height="25" rx="6"/><text class="t"><tspan x="572" y="3012.5">(1)、 检查各校食堂收费情况。</tspan></text></g>
<g id="b4-m3-2"><rect x="499" y="3051" width="230" height="25" rx="6"/><text class="t"><tspan x="505" y="3063.5">(2)、 检查各校二月份财务收支和公示情况。</tspan></text></g>
<g id="b4-m4-1"><rect x="488" y="3101" width="241" height="40" rx="6"/><text class="t"><tspan x="494" y="3113.7">(1)、 配合县教育局、县卫生局、县防疫站、镇</tspan><tspan x="494" y="3128.3">防疫所对全镇学校进行食堂安全卫生检查。</tspan></text></g>
<g id="b4-m4-2"><rect x="499" y="3167" width="230" height="25" rx="6"/><text class="t"><tspan x="505" y="3179.5">(2)、 检查各校三月份财务收支和公示情况。</tspan></text></g>
<g id="b4-m4-3"><rect x="544" y="3217" width="185" height="25" rx="6"/><text class="t"><tspan x="550" y="3229.5">(3)、 组织对各校食堂满意度测评。</tspan></text></g>
<g id="b4-m5-1"><rect x="488" y="3267" width="241" height="40" rx="6"/><text class="t"><tspan x="494" y="3279.7">(1)、 组织对各校食堂安全卫生等食堂工作常规</tspan><tspan x="494" y="3294.3">检查</tspan></text></g>
<g id="b4-m5-2"><rect x="533" y="3332" width="196" height="25" rx="6"/><text class="t"><tspan x="539" y="3344.5">(2)、 迎接海安县食堂评估验收工作。</tspan></text></g>
<g id="b4-m5-3"><rect x="499" y="3383" width="230" height="25" rx="6"/><text class="t"><tspan x="505" y="3395.5">(3)、 检查各校四月份财务收支和公示情况。</tspan></text></g>
<g id="b4-m6-1"><rect x="488" y="3433" width="241" height="40" rx="6"/><text class="t"><tspan x="494" y="3445.7">(1)、 组织对各校迎中考和小学毕业考试食堂工</tspan><tspan x="494" y="3460.3">作常规检查</tspan></text></g>
<g id="b4-m6-2"><rect x="499" y="3499" width="230" height="25" rx="6"/><text class="t"><tspan x="505" y="3511.5">(2)、 检查各校五月份财务收支和公示情况。</tspan></text></g>
<g id="b4-m6-3"><rect x="510" y="3549" width="219" height="25" rx="6"/><text class="t"><tspan x="516" y="3561.5">(3)、 组织对各校食堂财务人员业务培训。</tspan></text></g>
<g id="b4-m7-1"><rect x="544" y="3598" width="185" height="25" rx="6"/><text class="t"><tspan x="550" y="3610.5">(1)、 组织各校进行食堂民主理财。</tspan></text></g>
<g id="b4-m7-2"><rect x="488" y="3649" width="241" height="40" rx="6"/><text class="t"><tspan x="494" y="3661.7">(2)、 检查各校本学期财务收支和伙食费结算公</tspan><tspan x="494" y="3676.3">示情况。</tspan></text></g>
</g>

<g class="p">
<g id="b5-l1"><rect x="1753" y="2841" width="90" height="25" rx="6"/><text class="t"><tspan x="1759" y="2853.5">一、指导思想：</tspan></text></g>
<g id="b5-l2"><rect x="1755" y="3373" width="90" height="25" rx="6"/><text class="t"><tspan x="1761" y="3385.5">二、工作目标：</tspan></text></g>
<g id="b5-l3"><rect x="2126" y="3137" width="90" height="25" rx="6"/><text class="t"><tspan x="2132" y="3149.5">三、主要措施：</tspan></text></g>
<g id="b5-guide"><rect x="1865" y="2826" width="238" height="54" rx="6"/><text class="t"><tspan x="1871" y="2838.4">加强我校食堂管理,减轻学生家长负担,消除学</tspan><tspan x="1871" y="2853">校食堂安全隐患,保证师生身心健康,制止侵占</tspan><tspan x="1871" y="2867.6">学生餐费的违纪行为，特制定本计划。</tspan></text></g>
<g id="b5-a1"><rect x="1865" y="2906" width="238" height="39" rx="6"/><text class="t"><tspan x="1871" y="2918.2">1、规范学校食堂账务管理，确保记账合规合</tspan><tspan x="1871" y="2932.8">法、票据真实、手续齐全、账表规范。</tspan></text></g>
<g id="b5-a2"><rect x="1865" y="2971" width="238" height="54" rx="6"/><text class="t"><tspan x="1871" y="2983.4">2、规范学校食堂财务管理，确保收支合规合</tspan><tspan x="1871" y="2998">法，把紧支出关，严禁非伙食支出在学生伙食</tspan><tspan x="1871" y="3012.6">费中列支，严禁占用学生伙食费。</tspan></text></g>
<g id="b5-a3"><rect x="1865" y="3050" width="238" height="39" rx="6"/><text class="t"><tspan x="1871" y="3062.2">3、加强学校食堂卫生管理，完善食堂卫生设</tspan><tspan x="1871" y="3076.8">施和管理制度，严防食品中毒事故的发生。</tspan></text></g>
<g id="b5-a4"><rect x="1865" y="3115" width="238" height="68" rx="6"/><text class="t"><tspan x="1871" y="3127.1">4、加强学校食堂人员思想作风管理，确保食</tspan><tspan x="1871" y="3141.7">堂人员服务态度好、工作质量好,遵守纪律,服</tspan><tspan x="1871" y="3156.3">从安排，努力服务于学校教学和师生生活，力</tspan><tspan x="1871" y="3170.9">争食堂满意度达95%以上。</tspan></text></g>
<g id="b5-b1"><rect x="1865" y="3209" width="238" height="112" rx="6"/><text class="t"><tspan x="1871" y="3221.2">1、强化学校食堂责任制,把食堂安全卫生管理</tspan><tspan x="1871" y="3235.8">放在首位,完善食堂管理和安全卫生工作制度</tspan><tspan x="1871" y="3250.4">。食堂人员必须把握好质量关,严禁购买使用</tspan><tspan x="1871" y="3265">腐烂变质、有害有毒食物,严格执行索证制度,</tspan><tspan x="1871" y="3279.6">做到无证不购,严格操作规程,杜绝食物中毒事</tspan><tspan x="1871" y="3294.2">件发生。注意用电用火以及消防器材的管理,</tspan><tspan x="1871" y="3308.8">确保食堂无一安全事故发生。</tspan></text></g>
<g id="b5-b2"><rect x="1865" y="3347" width="238" height="54" rx="6"/><text class="t"><tspan x="1871" y="3359.4">2、加强食堂用工管理,规范用工行为。加强食</tspan><tspan x="1871" y="3374">堂员工的业务培训和政治学习，提高业务水平</tspan><tspan x="1871" y="3388.6">和服务质量。</tspan></text></g>
<g id="b5-b3"><rect x="1865" y="3427" width="238" height="98" rx="6"/><text class="t"><tspan x="1871" y="3439.5">3、加强食堂物品采购管理。执行上级对大宗</tspan><tspan x="1871" y="3454.1">物品统一采购制度，签订好合同，招标定点采</tspan><tspan x="1871" y="3468.7">购，对于其他小宗物品要选点采购，对产品价</tspan><tspan x="1871" y="3483.3">格、质量等内容逐一验收和记录。实行食品留</tspan><tspan x="1871" y="3497.9">样制度，做好留样记录，把好食品质量关。严</tspan><tspan x="1871" y="3512.5">堵违纪漏洞。</tspan></text></g>
<g id="b5-b4"><rect x="1865" y="3551" width="238" height="54" rx="6"/><text class="t"><tspan x="1871" y="3563.4">4.加强食堂收费管理。严格执行收费制度，规</tspan><tspan x="1871" y="3578">范收费行为，合理收取学生伙食费，及时开出</tspan><tspan x="1871" y="3592.6">票。</tspan></text></g>
<g id="b5-b5"><rect x="1865" y="3630" width="238" height="68" rx="6"/><text class="t"><tspan x="1871" y="3642.1">5.加强食堂财务手续管理。较大数量的食品、</tspan><tspan x="1871" y="3656.7">物品的采购要由采购组操作,购进食品、物资</tspan><tspan x="1871" y="3671.3">的验收、领用、证明及审批手续必须齐全，做</tspan><tspan x="1871" y="3685.9">到透明公开。</tspan></text></g>
<g id="b5-b6"><rect x="1865" y="3725" width="238" height="54" rx="6"/><text class="t"><tspan x="1871" y="3737.4">6.加强食堂会计核算管理。杜绝非食堂费用的</tspan><tspan x="1871" y="3752">支出。按日进行核算，按周平衡，按月结算，</tspan><tspan x="1871" y="3766.6">确保学生伙食费专款专用和伙食收支平衡。</tspan></text></g>
<g id="b5-b7"><rect x="1865" y="3804" width="238" height="83" rx="6"/><text class="t"><tspan x="1871" y="3816.3">7.加强食堂财务人员的业务培训。各学校食堂</tspan><tspan x="1871" y="3830.9">会计人员要依法取得原始凭证、填制好记帐凭</tspan><tspan x="1871" y="3845.5">证、登记好各类帐册、编制好财务报表，保管</tspan><tspan x="1871" y="3860.1">员要验收好、保管好、出库好各类材料并登记</tspan><tspan x="1871" y="3874.7">好材料明细帐，</tspan></text></g>
</g>

<g class="v">
<g id="b6-l1"><rect x="718" y="3764" width="90" height="25" rx="6"/><text class="t"><tspan x="724" y="3776.5">一、指导思想：</tspan></text></g>
<g id="b6-l2"><rect x="718" y="4234" width="90" height="25" rx="6"/><text class="t"><tspan x="724" y="4246.5">二、工作目标：</tspan></text></g>
<g id="b6-s1"><rect x="557" y="3954" width="149" height="25" rx="6"/><text class="t"><tspan x="563" y="3966.5">1、在学校安全工作方面：</tspan></text></g>
<g id="b6-s2"><rect x="557" y="4247" width="149" height="25" rx="6"/><text class="t"><tspan x="563" y="4259.5">2、在学校卫生工作方面：</tspan></text></g>
<g id="b6-s3"><rect x="505" y="4532" width="201" height="25" rx="6"/><text class="t"><tspan x="511" y="4544.5">3、在推进和落实校方责任保险方面：</tspan></text></g>
<g id="b6-guide"><rect x="468" y="3714" width="238" height="127" rx="6"/><text class="t"><tspan x="474" y="3726.4">坚持以科学发展观统领学校安全卫生工作，以</tspan><tspan x="474" y="3741">"办人民满意教育"为宗旨，牢固树立"珍爱生</tspan><tspan x="474" y="3755.6">命、安全第一、责任重于泰山"的意识，充分</tspan><tspan x="474" y="3770.2">认识保障青少年儿童的安全是学校教育工作的</tspan><tspan x="474" y="3784.8">首要职责，是构建社会主义和谐社会的重要基</tspan><tspan x="474" y="3799.4">础，增强学生自我保护意识和能力，坚持"制</tspan><tspan x="474" y="3814">度保证、重在预防"的安全工作思路，以扎实</tspan><tspan x="474" y="3828.6">有效的工作，创建"平安校园"。</tspan></text></g>
<g id="b6-1a"><rect x="303" y="3867" width="239" height="200" rx="6"/><text class="t"><tspan x="309" y="3879.4">全面贯彻落实《中小学幼儿园安全管理办法》</tspan><tspan x="309" y="3894">，重在落实学校主要负责人为第一责任人的安</tspan><tspan x="309" y="3908.6">全管理责任制，建立健全学校安全工作各项制</tspan><tspan x="309" y="3923.2">度，重点建立学校"人防、物防、技防"制度和</tspan><tspan x="309" y="3937.8">落实学生上下学交通安全、防溺水、防火等各</tspan><tspan x="309" y="3952.4">项措施。定期治理校园及周边环境，消除校内</tspan><tspan x="309" y="3967">的水、电、燃气、化学实验药品、消防等设施</tspan><tspan x="309" y="3981.6">设备的安全隐患。进一步加强学校对学生住宿</tspan><tspan x="309" y="3996.2">管理工作。排除学生宿舍及周边环境安全隐患</tspan><tspan x="309" y="4010.8">，学校要建立健全重大危险源监控机制和隐患</tspan><tspan x="309" y="4025.4">排查治理机制，推动学校安全教育与管理工作</tspan><tspan x="309" y="4040">规范科学化和常态化，不断提升学校安全管理</tspan><tspan x="309" y="4054.6">水平、学生自我防范意识和保护能力。</tspan></text></g>
<g id="b6-2a"><rect x="303" y="4093" width="239" height="83" rx="6"/><text class="t"><tspan x="309" y="4105.3">大力开展爱国卫生运动，布置并落实好爱国卫</tspan><tspan x="309" y="4119.9">生重点工作和任务，学校各部门通过各种形式</tspan><tspan x="309" y="4134.5">，广泛宣传卫生知识，在学校形成人人讲卫生</tspan><tspan x="309" y="4149.1">、处处讲卫生的文明习惯，加大学校环境卫生</tspan><tspan x="309" y="4163.7">整治力度，不留卫生死角，优化美化校园。</tspan></text></g>
<g id="b6-2b"><rect x="303" y="4202" width="239" height="112" rx="6"/><text class="t"><tspan x="309" y="4214.2">学校要高度重视传染病防控工作，建立完善防</tspan><tspan x="309" y="4228.8">控安全工作机制，规范学校传染病的管理措施</tspan><tspan x="309" y="4243.4">，有效防范和妥善处理学校群体性传染事件。</tspan><tspan x="309" y="4258">为此，重点是加强学校传染病健康教育工作。</tspan><tspan x="309" y="4272.6">提高广大师生自我防护意识和能力。开展主动</tspan><tspan x="309" y="4287.2">监测和疫情报告等工作。认真落实学校健康体</tspan><tspan x="309" y="4301.8">检、晨检。因病缺勤登记和追踪制度。</tspan></text></g>
<g id="b6-2c"><rect x="303" y="4339" width="239" height="98" rx="6"/><text class="t"><tspan x="309" y="4351.5">学校要不断加强对食堂环境和公共卫生整治力</tspan><tspan x="309" y="4366.1">度，确保食堂公共卫生、环境优美。为此，确</tspan><tspan x="309" y="4380.7">保学校食堂卫生许可证，从业人员健康证持证</tspan><tspan x="309" y="4395.3">率达100%，学校食堂进货索票、索证率达到</tspan><tspan x="309" y="4409.9">100%。力争学校食堂安全卫生工作争取达到</tspan><tspan x="309" y="4424.5">国家相关法律法规文件要求。</tspan></text></g>
<g id="b6-3a"><rect x="247" y="4464" width="237" height="68" rx="6"/><text class="t"><tspan x="253" y="4476.1">认真贯彻落实教育部、财政部、中国保险监督</tspan><tspan x="253" y="4490.7">管理委员会相关文件精神，完善教育风险管理</tspan><tspan x="253" y="4505.3">机制，认真做好校方责任险、实习生责任险等</tspan><tspan x="253" y="4519.9">工作，确保做到应保尽保。</tspan></text></g>
<g id="b6-3b"><rect x="247" y="4557" width="237" height="68" rx="6"/><text class="t"><tspan x="253" y="4569.1">总之，通过扎实有效的开展学校安全卫生工作</tspan><tspan x="253" y="4583.7">，切实改善学校的教学和生活环境。确保学生</tspan><tspan x="253" y="4598.3">身体健康和生命安全，努力维护校园和社会稳</tspan><tspan x="253" y="4612.9">定。</tspan></text></g>
</g>
</g>
</svg>
